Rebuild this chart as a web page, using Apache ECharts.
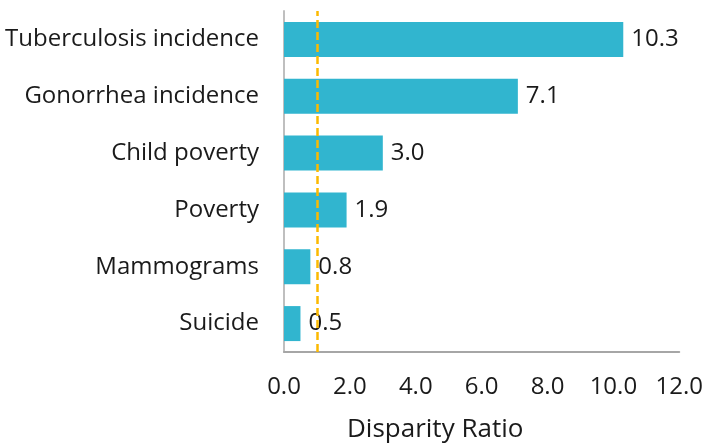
<!DOCTYPE html>
<html>
<head>
<meta charset="utf-8">
<script src="https://cdn.jsdelivr.net/npm/echarts@6/dist/echarts.min.js"></script>
<style>
html,body{margin:0;padding:0;background:#fff;}
#chart{width:706px;height:444px;}
</style>
</head>
<body>
<div id="chart"></div>
<script>
// Indicators, listed bottom-to-top for the category axis
const categories = ['Suicide', 'Mammograms', 'Poverty', 'Child poverty', 'Gonorrhea incidence', 'Tuberculosis incidence'];
const ratios = [0.5, 0.8, 1.9, 3.0, 7.1, 10.3];
const referenceRatio = 1.0;
const axisMin = 0, axisMax = 12, axisStep = 2;

const FONT = '"Open Sans", "Noto Sans", sans-serif';
const TEXT = '#1a1a1a';

const chart = echarts.init(document.getElementById('chart'), null, {renderer: 'canvas'});
chart.setOption({
  animation: false,
  backgroundColor: '#ffffff',
  grid: {left: 284, right: 23, top: 11, bottom: 92, containLabel: false},
  xAxis: {
    type: 'value',
    min: axisMin, max: axisMax, interval: axisStep,
    axisLine: {show: true, lineStyle: {color: '#a6a6a6', width: 2}},
    axisTick: {show: false},
    splitLine: {show: false},
    axisLabel: {
      margin: 23, fontFamily: FONT, fontSize: 24, color: TEXT,
      formatter: v => v.toFixed(1)
    }
  },
  yAxis: {
    type: 'category',
    data: categories,
    axisLine: {show: true, lineStyle: {color: '#bfbfbf', width: 2}},
    axisTick: {show: false},
    axisLabel: {margin: 25, fontFamily: FONT, fontSize: 24, color: TEXT}
  },
  graphic: [{
    type: 'text',
    left: 347, top: 417,
    style: {text: 'Disparity Ratio', font: '26px ' + FONT, fill: TEXT}
  }],
  series: [{
    type: 'bar',
    data: ratios,
    barWidth: 35,
    itemStyle: {color: '#31b5cf'},
    label: {
      show: true, position: 'right', distance: 8,
      fontFamily: FONT, fontSize: 24, color: TEXT,
      formatter: p => p.value.toFixed(1)
    },
    markLine: {
      silent: true,
      symbol: ['none', 'none'],
      label: {show: false},
      lineStyle: {color: '#fcb900', type: [8, 4], width: 2.5},
      data: [{xAxis: referenceRatio}]
    }
  }]
});
</script>
</body>
</html>
